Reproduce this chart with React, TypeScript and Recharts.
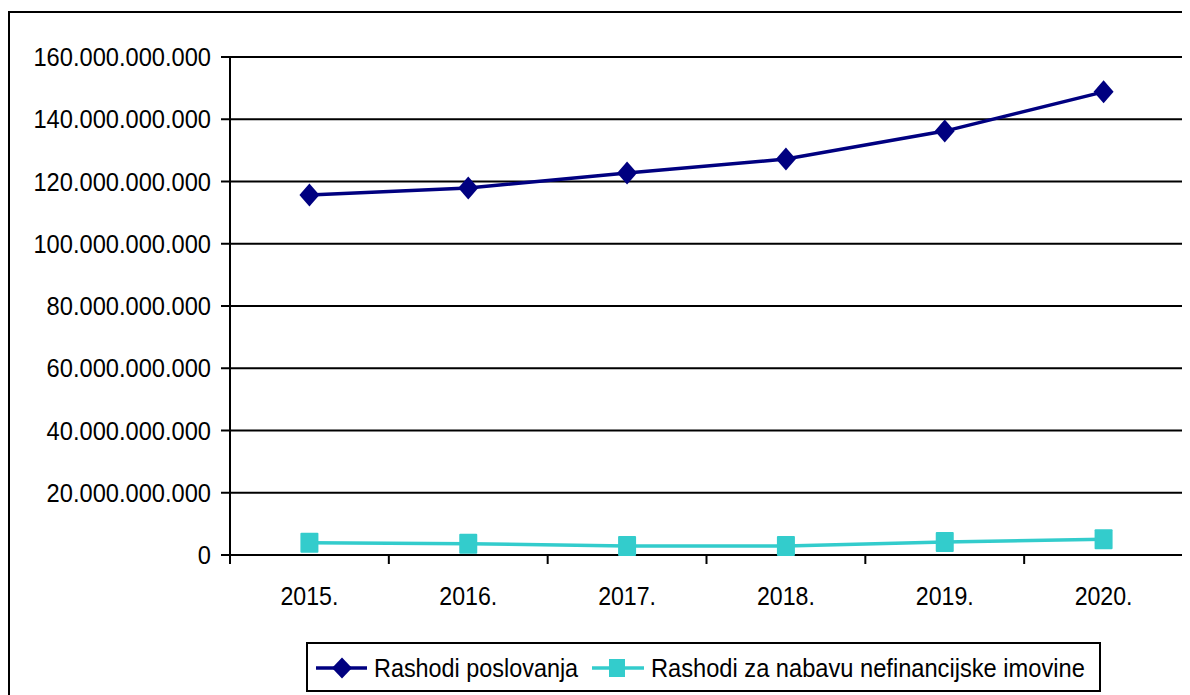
import React from "react";
import {
  LineChart,
  Line,
  XAxis,
  YAxis,
  CartesianGrid,
  Legend,
} from "recharts";

const categories = ["2015.", "2016.", "2017.", "2018.", "2019.", "2020."];
const rashodiPoslovanja = [115.7e9, 117.9e9, 122.7e9, 127.2e9, 136.2e9, 148.8e9];
const rashodiNefinancijske = [3.9e9, 3.6e9, 2.9e9, 2.9e9, 4.2e9, 5.1e9];
const yTicks = [0, 20e9, 40e9, 60e9, 80e9, 100e9, 120e9, 140e9, 160e9];
const xTicks = [-0.5, 0, 0.5, 1, 1.5, 2, 2.5, 3, 3.5, 4, 4.5, 5, 5.5];

const NAVY = "#000080";
const CYAN = "#33CCCC";
const FONT = "'Liberation Sans', Arial, sans-serif";
const FS = 26;
const SQUEEZE = 0.9; // text in the original is a bit narrower than Arial

const data = categories.map((c, i) => ({
  idx: i,
  year: c,
  poslovanje: rashodiPoslovanja[i],
  nefinancijska: rashodiNefinancijske[i],
}));

// 160000000000 -> 160.000.000.000
const fmt = (v: number) => String(Math.round(v)).replace(/\B(?=(\d{3})+(?!\d))/g, ".");

const Diamond = (props: any) => {
  const { cx, cy } = props;
  if (cx == null || cy == null) return null;
  return (
    <polygon
      points={`${cx},${cy - 11.5} ${cx + 10},${cy} ${cx},${cy + 11.5} ${cx - 10},${cy}`}
      fill={NAVY}
    />
  );
};

const Square = (props: any) => {
  const { cx, cy } = props;
  if (cx == null || cy == null) return null;
  return <rect x={cx - 9} y={cy - 10} width={18} height={20} rx={1} fill={CYAN} />;
};

const ValueTick = (props: any) => {
  const { x, y, payload } = props;
  return (
    <text
      transform={`translate(${x},${y}) scale(0.91,1)`}
      textAnchor="end"
      dy="0.355em"
      fill="#000"
      fontSize={FS}
      fontFamily={FONT}
    >
      {fmt(payload.value)}
    </text>
  );
};

// half-step ticks get the tick mark, whole steps get the year label
const YearTick = (props: any) => {
  const { x, y, payload } = props;
  const v = payload.value;
  if (!Number.isInteger(v)) {
    return <line x1={x} x2={x} y1={y} y2={y + 9} stroke="#000" strokeWidth={2} />;
  }
  return (
    <text
      transform={`translate(${x},${y + 50}) scale(0.89,1)`}
      textAnchor="middle"
      fill="#000"
      fontSize={FS}
      fontFamily={FONT}
    >
      {categories[v]}
    </text>
  );
};

const LegendBox = () => (
  <svg width={795} height={50} style={{ display: "block" }}>
    <rect x={1} y={1} width={793} height={48} fill="#fff" stroke="#000" strokeWidth={2} />
    <line x1={10} x2={61} y1={26} y2={26} stroke={NAVY} strokeWidth={3.5} />
    <polygon points="36,15.5 46,26 36,36.5 26,26" fill={NAVY} />
    <text
      transform={`translate(68,35) scale(${SQUEEZE},1)`}
      fontSize={FS}
      fontFamily={FONT}
      fill="#000"
    >
      Rashodi poslovanja
    </text>
    <line x1={286} x2={338} y1={26} y2={26} stroke={CYAN} strokeWidth={3.5} />
    <rect x={303} y={17} width={16} height={18} fill={CYAN} />
    <text
      transform={`translate(345,35) scale(0.91,1)`}
      fontSize={FS}
      fontFamily={FONT}
      fill="#000"
    >
      Rashodi za nabavu nefinancijske imovine
    </text>
  </svg>
);

export default function App() {
  return (
    <div
      style={{
        marginTop: 3,
        width: 1180,
        height: 700,
        border: "2px solid #000",
        background: "#fff",
      }}
    >
      <LineChart
        width={1180}
        height={690}
        data={data}
        margin={{ top: 44, right: 7, left: 0, bottom: 88 }}
      >
        <CartesianGrid vertical={false} stroke="#000" strokeWidth={2} />
        <XAxis
          type="number"
          dataKey="idx"
          domain={[-0.5, 5.5]}
          ticks={xTicks}
          interval={0}
          tick={<YearTick />}
          tickLine={false}
          tickSize={0}
          tickMargin={0}
          height={60}
          axisLine={{ stroke: "#000", strokeWidth: 2 }}
        />
        <YAxis
          width={220}
          domain={[0, 160e9]}
          ticks={yTicks}
          interval={0}
          tick={<ValueTick />}
          tickSize={9}
          tickMargin={10}
          tickLine={{ stroke: "#000", strokeWidth: 2 }}
          axisLine={{ stroke: "#000", strokeWidth: 2 }}
        />
        <Legend
          verticalAlign="middle"
          content={<LegendBox />}
          wrapperStyle={{ top: 629, left: 296, width: "auto" }}
        />
        <Line
          dataKey="poslovanje"
          name="Rashodi poslovanja"
          stroke={NAVY}
          strokeWidth={3.5}
          dot={<Diamond />}
          activeDot={false}
          isAnimationActive={false}
        />
        <Line
          dataKey="nefinancijska"
          name="Rashodi za nabavu nefinancijske imovine"
          stroke={CYAN}
          strokeWidth={3.5}
          dot={<Square />}
          activeDot={false}
          isAnimationActive={false}
        />
      </LineChart>
    </div>
  );
}
